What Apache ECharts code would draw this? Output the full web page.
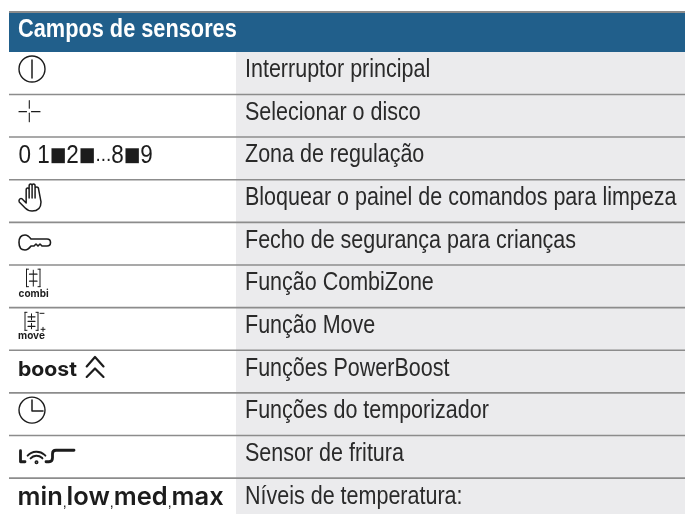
<!DOCTYPE html>
<html>
<head>
<meta charset="utf-8">
<style>html,body{margin:0;padding:0;background:#fff}#chart{width:685px;height:515px}</style>
<script src="https://cdn.jsdelivr.net/npm/echarts@6/dist/echarts.min.js"></script>
</head>
<body>
<div id="chart"></div>
<script>
// dados da tabela
const titulo = 'Campos de sensores'
const funcoes = [
	'Interruptor principal',
	'Selecionar o disco',
	'Zona de regulação',
	'Bloquear o painel de comandos para limpeza',
	'Fecho de segurança para crianças',
	'Função CombiZone',
	'Função Move',
	'Funções PowerBoost',
	'Funções do temporizador',
	'Sensor de fritura',
	'Níveis de temperatura:'
]
const simbolos = ['power', 'cross', 'zona', 'hand', 'key', 'combi', 'move', 'boost', 'clock', 'fry', 'niveis']
const zonaTexto = '{n|0 1}{s|■}{n|2}{s|■}{d|...}{n|8}{s|■}{n|9}'
const niveis = ['min', 'low', 'med', 'max']

const FONT = '"Liberation Sans", sans-serif'
const GEO = 'Inter, Lato, sans-serif'
const INK = '#1c1c1c'
const LINE = '#8c8c8c'
const CELL = '#ebebed'
const BLUE = '#215f8b'

// desenho dos simbolos, origem no canto superior esquerdo da celula esquerda
const stroke = (w) => ({ stroke: INK, lineWidth: w, fill: 'none', lineCap: 'round', lineJoin: 'round' })
// x, y, width, height: caixa exata do caminho, senao o echarts deforma
const path = (d, w, x, y, width, height) => ({
	type: 'path',
	shape: { pathData: d, layout: 'cover', x, y, width, height },
	style: stroke(w)
})
const line = (x1, y1, x2, y2, w) => ({ type: 'line', shape: { x1, y1, x2, y2 }, style: stroke(w) })
const circ = (cx, cy, r, w) => ({ type: 'circle', shape: { cx, cy, r }, style: stroke(w) })
const arc = (cx, cy, r, a, b, w) => ({ type: 'arc', shape: { cx, cy, r, startAngle: a, endAngle: b, clockwise: true }, style: stroke(w) })
const polyline = (pts, w) => ({ type: 'polyline', shape: { points: pts }, style: stroke(w) })
const label = (text, x, y, size, weight, family, sx, color) => ({
	type: 'text', x, y, scaleX: sx || 1,
	style: { text, x: 0, y: 0, fill: color || INK, font: weight + ' ' + size + 'px ' + (family || FONT), verticalAlign: 'middle', textVerticalAlign: 'middle' }
})
const brackets = (x1, x2, y1, y2, w) => [
	line(x1 + 2, y1, x1, y1, w), line(x1, y1, x1, y2, w), line(x1, y2, x1 + 2, y2, w),
	line(x2 - 2, y1, x2, y1, w), line(x2, y1, x2, y2, w), line(x2, y2, x2 - 2, y2, w)
]

const icones = {
	power: () => [circ(23, 17, 13, 1.4), line(23, 8, 23, 26, 1.5)],
	cross: () => [
		line(10, 17, 17.5, 17, 1.1), line(22.5, 17, 31, 17, 1.1),
		line(20.3, 6, 20.3, 13.5, 1.1), line(20.3, 18.5, 20.3, 27, 1.1)
	],
	zona: () => [{
		type: 'text', x: 9.5, y: 19, scaleX: 0.9,
		style: {
			x: 0, y: 0, text: zonaTexto, fill: INK, verticalAlign: 'middle', textVerticalAlign: 'middle',
			rich: {
				n: { font: 'normal 25px ' + FONT, fill: INK, verticalAlign: 'middle' },
				s: { font: 'normal 19.5px "DejaVu Sans"', fill: INK, verticalAlign: 'middle' },
				d: { font: 'normal 21px ' + FONT, fill: INK, verticalAlign: 'bottom', padding: [0, 0, 3, 0] }
			}
		}
	}],
	hand: () => [
		path('M0 16 Q1 14 3 15 L7 19 L7 6 Q7 4 8.5 4 Q10 4 10 6 L10 2 Q10 0 11.5 0 Q13 0 13 2 L13 1.5 Q13 0 14.5 0 Q16 0 16 2 L16 4 Q16 3 17.5 3 Q19.5 3 19.5 5 L22 18 Q22 27 13 27 Q9 27 6 24 L0 18 Q-0.5 17 0 16 M10 6 L10 14 M13 2 L13 14 M16 4 L16 14', 1.5, 10, 4, 22, 27)
	],
	key: () => [
		path('M30 16.5 L22 16.5 Q19 12.5 16 12.5 Q10 12.5 10 20 Q10 27.5 16 27.5 Q19 27.5 22 23.5 L25 23.5 L27 21.5 L29 23.5 L31 21.5 L33 23.5 L38 23.5 Q41.5 23.5 41.5 20 Q41.5 16.5 38 16.5 L30 16.5', 1.6, 10, 12.5, 31.5, 15)
	],
	combi: () => [
		...brackets(17.5, 31, 4, 21.5, 1),
		line(24.3, 5, 24.3, 21, 1), line(20.5, 9, 28, 9, 1.2), line(20.5, 16, 28, 16, 1.2),
		label('combi', 9.5, 28.5, 10, 'bold', GEO)
	],
	move: () => [
		...brackets(16, 29, 4.5, 22.5, 1),
		line(22.5, 6, 22.5, 12, 1), line(19, 9, 26, 9, 1.2), line(19, 13.5, 26, 13.5, 1.2),
		line(22.5, 15.5, 22.5, 21, 1), line(19, 18.5, 26, 18.5, 1.2),
		line(31, 5.5, 35, 5.5, 1), line(32, 21.5, 36, 21.5, 1), line(34, 19.5, 34, 23.5, 1),
		label('move', 9, 28.5, 10, 'bold', GEO)
	],
	boost: () => [
		label('boost', 9, 20, 20, 'bold', GEO, 1.06),
		polyline([[77.7, 16], [86, 6.5], [94.5, 16]], 2.2),
		polyline([[77.7, 26.5], [86, 18], [94.5, 26.5]], 2.2)
	],
	clock: () => [circ(23, 17, 13, 1.4), polyline([[23, 7], [23, 18], [34, 18]], 1.5)],
	fry: () => [
		path('M11.5 15 L11.5 26 L16 26', 2.8, 11.5, 15, 4.5, 11),
		arc(27.5, 28, 12, -2.4, -0.74, 2),
		arc(27.5, 28, 8, -2.4, -0.74, 2),
		circ(27.5, 26.5, 1.2, 1.6),
		path('M37 26 L40 26 Q43.5 26 43.5 22 L43.5 18 Q43.5 14.5 47 14.5 L65 14.5', 2.8, 37, 14.5, 28, 11.5)
	],
	niveis: () => [{
		type: 'text',
		style: {
			x: 8.5, y: 19,
			text: niveis.map(n => '{b|' + n + '}').join('{c|,}'),
			fill: INK, verticalAlign: 'middle', textVerticalAlign: 'middle',
			rich: {
				b: { font: '600 25.5px ' + GEO, fill: INK },
				c: { font: 'normal 14px ' + FONT, fill: INK, verticalAlign: 'bottom' }
			}
		}
	}]
}

const renderLinha = (params, api) => {
	let i = api.value(1)
	let centro = api.coord([0, i])
	let alto = api.size([0, 1])[1]
	let topo = centro[1] - alto / 2
	let xCol = api.coord([236, i])[0]
	let xFim = api.coord([685, i])[0]
	let xIni = api.coord([9, i])[0]
	let filhos = [
		{ type: 'rect', shape: { x: xCol, y: topo, width: xFim - xCol, height: alto }, style: { fill: CELL } }
	]
	if (i > 0) {
		filhos.push({ type: 'rect', shape: { x: xIni, y: topo - 1, width: xFim - xIni, height: 1.6 }, style: { fill: LINE } })
	}
	filhos.push(label(funcoes[i], 245, centro[1] - 3, 25, 'normal', FONT, 0.86, '#2a2a2a'))
	filhos.push({ type: 'group', x: xIni, y: topo, children: icones[simbolos[i]]() })
	return { type: 'group', children: filhos }
}

let chart = echarts.init(document.getElementById('chart'), null, { renderer: 'canvas' })
chart.setOption({
	animation: false,
	grid: { left: 0, right: 0, top: 52, height: 469, containLabel: false, outerBoundsMode: 'none' },
	xAxis: { type: 'value', min: 0, max: 685, show: false },
	yAxis: { type: 'category', inverse: true, show: false, data: funcoes },
	series: [{
		type: 'custom',
		clip: false,
		renderItem: renderLinha,
		encode: { x: 0, y: 1 },
		data: funcoes.map((f, i) => [0, i])
	}],
	graphic: [
		{ type: 'rect', z: 10, shape: { x: 9, y: 11, width: 676, height: 2 }, style: { fill: LINE } },
		{ type: 'rect', z: 10, shape: { x: 9, y: 13, width: 676, height: 39 }, style: { fill: BLUE } },
		{ type: 'text', z: 11, x: 18, y: 30, scaleX: 0.87, style: { text: titulo, fill: '#fff', font: 'bold 25px ' + FONT, verticalAlign: 'middle', textVerticalAlign: 'middle' } },
		{ type: 'rect', z: 12, shape: { x: 0, y: 514, width: 685, height: 1 }, style: { fill: '#fff' } }
	]
})
</script>
</body>
</html>
